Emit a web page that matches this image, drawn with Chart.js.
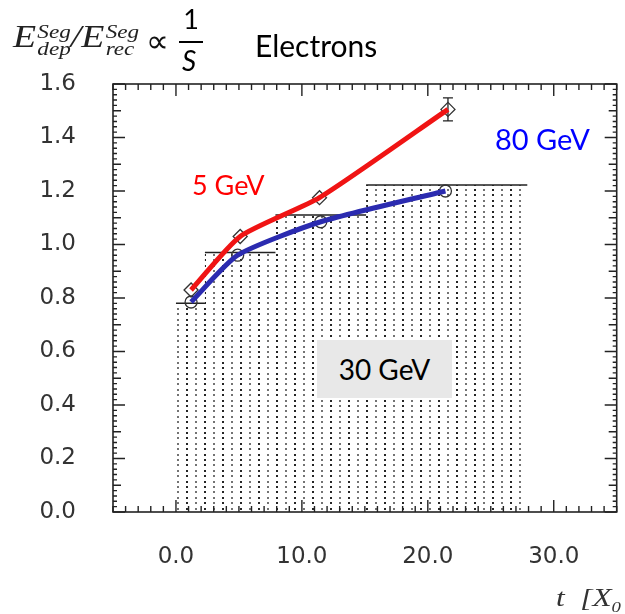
<!DOCTYPE html>
<html>
<head>
<meta charset="utf-8">
<script src="https://cdn.jsdelivr.net/npm/chart.js@4.4.1/dist/chart.umd.min.js"></script>
<style>
  body { margin: 0; background: #fff; overflow: hidden; }
  #wrap { position: relative; width: 625px; height: 614px; overflow: hidden; }
  #myChart { position: absolute; left: 0; top: 0; }
  .note { position: absolute; white-space: nowrap; font-family: Lato, "Noto Sans", sans-serif; }
  .math { position: absolute; white-space: nowrap; font-family: "Liberation Serif", serif; font-style: italic; color: #222; transform-origin: 0 0; }
  .scr { display: inline-block; vertical-align: middle; font-size: 19px; line-height: 17px; text-align: left; margin-left: 1px; }
</style>
</head>
<body>
<div id="wrap">
  <canvas id="myChart" width="625" height="614"></canvas>

  <div class="math" style="left:13px; top:19px; font-size:31px; transform:scaleX(1.22);">E<span class="scr">Seg<br>dep</span>/E<span class="scr">Seg<br>rec</span></div>
  <div class="note" style="left:146px; top:20px; font-size:32px; color:#111;">&prop;</div>
  <div class="note" style="left:180px; top:4px; font-size:27px; line-height:30px; color:#000; text-align:center; width:22px;">1</div>
  <div style="position:absolute; left:179px; top:41px; width:24px; height:2px; background:#000;"></div>
  <div class="note" style="left:182px; top:45px; font-size:28px; line-height:30px; font-style:italic; color:#000;">S</div>
  <div class="note" style="left:255px; top:27px; font-size:30px; color:#000;">Electrons</div>

  <div class="note" style="left:192px; top:168px; font-size:27px; color:#ff0000;">5 GeV</div>
  <div class="note" style="left:495px; top:121px; font-size:29px; color:#0000ff;">80 GeV</div>
  <div class="note" style="left:317px; top:340px; width:135px; height:58px; background:#e8e8e8; color:#000; font-size:28px; line-height:58px; text-align:center;">30 GeV</div>

  <div class="math" style="left:556px; top:584px; font-size:25px; color:#333; transform:scaleX(1.25);">t&nbsp;&nbsp;[X<sub style="font-size:15px;">0</sub></div>
</div>

<script>
// 5 GeV electrons (red line, open diamonds)
const redX = [1.2, 5.1, 11.4, 21.6];
const redY = [0.83, 1.03, 1.175, 1.505];
const redErr = [0, 0, 0, 0.043];
// 80 GeV electrons (blue line, open circles)
const blueX = [1.2, 4.9, 11.5, 21.4];
const blueY = [0.785, 0.96, 1.085, 1.2];
// 30 GeV histogram (dotted bins)
const binEdges = [0, 2.3, 7.9, 15.1, 27.9];
const binHeights = [0.78, 0.97, 1.11, 1.222];
// axis tick labels
const xTicks = [0, 10, 20, 30];
const yTicks = [0, 0.2, 0.4, 0.6, 0.8, 1.0, 1.2, 1.4, 1.6];

const toPoints = (xs, ys) => xs.map((x, i) => ({ x: x, y: ys[i] }));

// stepped fill outline for the histogram
const histFill = binEdges.map((e, i) => ({ x: e, y: i < binHeights.length ? binHeights[i] : binHeights[binHeights.length - 1] }));

// separate top segments of every bin
const histTops = [];
binHeights.forEach((h, i) => {
  histTops.push({ x: binEdges[i], y: h });
  histTops.push({ x: binEdges[i + 1], y: h });
  histTops.push({ x: binEdges[i + 1], y: null });
});

const makeDots = () => {
  const c = document.createElement("canvas");
  c.width = 18;
  c.height = 27;
  const g = c.getContext("2d");
  for (let i = 0; i < 5; i++) {
    const yy = Math.round(i * 5.4);
    g.fillStyle = "rgba(0,0,0,0.85)";
    g.fillRect(6, yy, 2, 2);
    g.fillStyle = "rgba(0,0,0,0.55)";
    g.fillRect(15, yy, 2, 2);
  }
  return c;
};

const frameTicks = {
  id: "frameTicks",
  afterDatasetsDraw(chart) {
    const { ctx, chartArea: a, scales } = chart;
    const sx = scales.x, sy = scales.y;
    ctx.save();
    ctx.strokeStyle = "#222";
    ctx.lineWidth = 1.4;
    ctx.beginPath();
    for (let v = Math.ceil(sx.min); v <= sx.max; v++) {
      const px = sx.getPixelForValue(v);
      const len = v % 10 === 0 ? 12 : 6;
      ctx.moveTo(px, a.bottom);
      ctx.lineTo(px, a.bottom - len);
      ctx.moveTo(px, a.top);
      ctx.lineTo(px, a.top + len);
    }
    for (let i = 0; i <= 80; i++) {
      const py = sy.getPixelForValue(i * 0.02);
      const len = i % 10 === 0 ? 12 : (i % 5 === 0 ? 8 : 4);
      ctx.moveTo(a.left, py);
      ctx.lineTo(a.left + len, py);
      ctx.moveTo(a.right, py);
      ctx.lineTo(a.right - len, py);
    }
    ctx.stroke();
    ctx.lineWidth = 1.6;
    ctx.strokeRect(a.left, a.top, a.right - a.left, a.bottom - a.top);
    ctx.restore();
  },
};

const errorBars = {
  id: "errorBars",
  beforeDatasetsDraw(chart) {
    const { ctx, scales } = chart;
    ctx.save();
    ctx.strokeStyle = "#222";
    ctx.lineWidth = 1.3;
    redX.forEach((x, i) => {
      if (!redErr[i]) return;
      const px = scales.x.getPixelForValue(x);
      const top = scales.y.getPixelForValue(redY[i] + redErr[i]);
      const bot = scales.y.getPixelForValue(redY[i] - redErr[i]);
      ctx.beginPath();
      ctx.moveTo(px, top); ctx.lineTo(px, bot);
      ctx.moveTo(px - 5, top); ctx.lineTo(px + 5, top);
      ctx.moveTo(px - 5, bot); ctx.lineTo(px + 5, bot);
      ctx.stroke();
    });
    ctx.restore();
  },
};

const cntx = document.getElementById("myChart").getContext("2d");
const dotPattern = cntx.createPattern(makeDots(), "repeat");

const tickFont = { family: "'DejaVu Sans', sans-serif", size: 23 };

new Chart(cntx, {
  type: "scatter",
  data: {
    datasets: [
      {
        label: "5 GeV",
        data: toPoints(redX, redY),
        showLine: true,
        borderColor: "#f01414",
        borderWidth: 5,
        tension: 0.2,
        pointRadius: 0,
        order: 0,
      },
      {
        label: "80 GeV",
        data: toPoints(blueX, blueY),
        showLine: true,
        borderColor: "#2b2bb0",
        borderWidth: 5,
        tension: 0.2,
        pointRadius: 0,
        order: 1,
      },
      {
        label: "5 GeV markers",
        data: toPoints(redX, redY),
        showLine: false,
        pointStyle: "rectRot",
        pointRadius: 7,
        pointBorderColor: "#333",
        pointBackgroundColor: "rgba(255,255,255,0)",
        pointBorderWidth: 1.3,
        order: 2,
      },
      {
        label: "80 GeV markers",
        data: toPoints(blueX, blueY),
        showLine: false,
        pointStyle: "circle",
        pointRadius: 6,
        pointBorderColor: "#333",
        pointBackgroundColor: "rgba(255,255,255,0)",
        pointBorderWidth: 1.3,
        order: 2,
      },
      {
        label: "30 GeV tops",
        data: histTops,
        showLine: true,
        spanGaps: false,
        borderColor: "#222",
        borderWidth: 1.5,
        pointRadius: 0,
        order: 3,
      },
      {
        label: "30 GeV",
        data: histFill,
        showLine: true,
        stepped: "before",
        borderWidth: 0,
        borderColor: "rgba(0,0,0,0)",
        backgroundColor: dotPattern,
        fill: "origin",
        pointRadius: 0,
        order: 4,
      },
    ],
  },
  options: {
    responsive: false,
    animation: false,
    layout: { padding: { top: 84, right: 8, left: 0, bottom: 0 } },
    plugins: {
      legend: { display: false },
      tooltip: { enabled: false },
    },
    scales: {
      x: {
        type: "linear",
        min: -5,
        max: 35,
        afterBuildTicks: (s) => { s.ticks = xTicks.map((v) => ({ value: v })); },
        afterFit: (s) => { s.height = 102; },
        grid: { display: false, drawTicks: false },
        border: { display: false },
        ticks: {
          padding: 31,
          font: tickFont,
          color: "#333",
          maxRotation: 0,
          callback: (v) => Number(v).toFixed(1),
        },
      },
      y: {
        min: 0,
        max: 1.6,
        afterBuildTicks: (s) => { s.ticks = yTicks.map((v) => ({ value: v })); },
        afterFit: (s) => { s.width = 113; },
        grid: { display: false, drawTicks: false },
        border: { display: false },
        ticks: {
          padding: 37,
          font: tickFont,
          color: "#333",
          callback: (v) => Number(v).toFixed(1),
        },
      },
    },
  },
  plugins: [frameTicks, errorBars],
});
</script>
</body>
</html>
